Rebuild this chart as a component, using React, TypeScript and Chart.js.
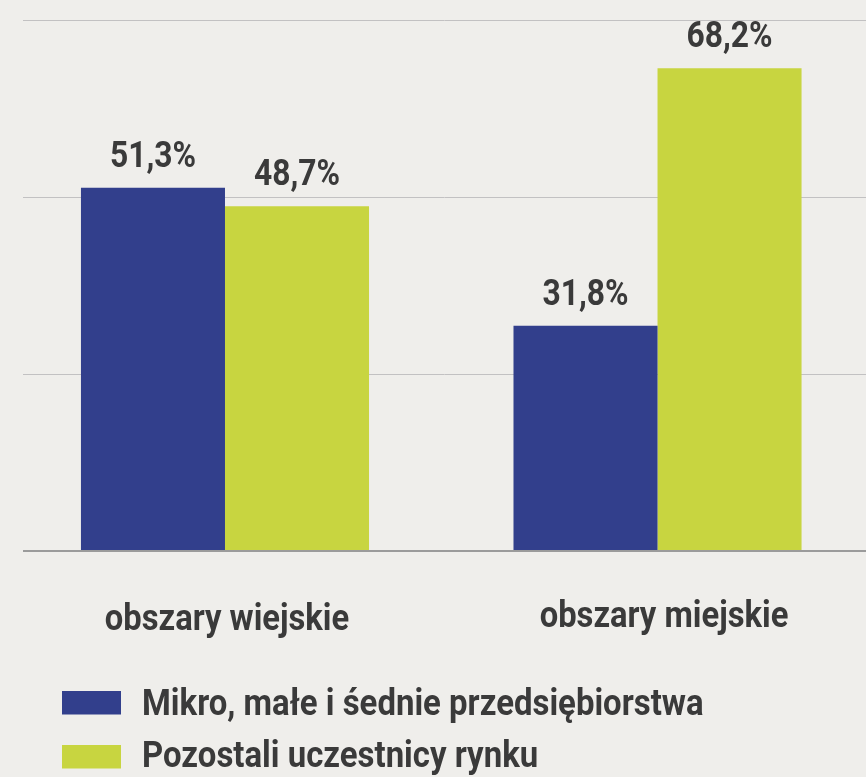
import React, { useEffect, useRef } from "react";
import { Chart, registerables } from "chart.js";

Chart.register(...registerables);

// ---- data ----
const categories = ["obszary wiejskie", "obszary miejskie"];
const seriesNames = ["Mikro, małe i śednie przedsiębiorstwa", "Pozostali uczestnicy rynku"];
const smeValues = [51.3, 31.8];
const otherValues = [48.7, 68.2];
const yTicks = [0, 25, 50, 75];

// ---- styles ----
const BLUE = "#323f8c";
const GREEN = "#c8d540";
const TEXT = "#3a3a3a";
const BG = "#efeeeb";
const FONT = "bold 37px Roboto";

function drawCondensed(ctx: CanvasRenderingContext2D, text: string, x: number, y: number, center: boolean, sx: number) {
  ctx.save();
  ctx.font = FONT;
  ctx.fillStyle = TEXT;
  ctx.textBaseline = "alphabetic";
  ctx.textAlign = "left";
  const w = ctx.measureText(text).width * sx;
  const left = center ? x - w / 2 : x;
  ctx.translate(left, y);
  ctx.scale(sx, 1);
  ctx.fillText(text, 0, 0);
  ctx.restore();
}

const fmt = (v: number) => v.toFixed(1).replace(".", ",") + "%";

const textPlugin = {
  id: "textPlugin",
  afterDatasetsDraw(chart: any) {
    const ctx: CanvasRenderingContext2D = chart.ctx;
    // value labels
    chart.data.datasets.forEach((ds: any, i: number) => {
      const meta = chart.getDatasetMeta(i);
      meta.data.forEach((bar: any, j: number) => {
        drawCondensed(ctx, fmt(ds.data[j].y), bar.x, bar.y - 21, true, 0.86);
      });
    });
    // category labels
    const xs = chart.scales.x;
    const bottom = chart.chartArea.bottom;
    const labelTweaks = [
      { dx: 2, dy: 79 },
      { dx: 6.5, dy: 76 },
    ];
    categories.forEach((c, j) => {
      const t = labelTweaks[j];
      drawCondensed(ctx, c, xs.getPixelForValue(j) + t.dx, bottom + t.dy, true, 0.885);
    });
    // legend
    const boxTops = [691, 745];
    const baselines = [715, 767];
    chart.data.datasets.forEach((ds: any, i: number) => {
      ctx.save();
      ctx.fillStyle = ds.backgroundColor;
      ctx.fillRect(62, boxTops[i], 59, 23.5);
      ctx.restore();
      drawCondensed(ctx, ds.label, 142, baselines[i], false, 0.89);
    });
  },
};

export default function App() {
  const ref = useRef<HTMLCanvasElement | null>(null);

  useEffect(() => {
    if (!ref.current) return;
    const chart = new Chart(ref.current, {
      type: "bar",
      data: {
        datasets: [
          {
            label: seriesNames[0],
            data: categories.map((_, i) => ({ x: i, y: smeValues[i] })),
            backgroundColor: BLUE,
            categoryPercentage: 0.666,
            barPercentage: 1,
          },
          {
            label: seriesNames[1],
            data: categories.map((_, i) => ({ x: i, y: otherValues[i] })),
            backgroundColor: GREEN,
            categoryPercentage: 0.666,
            barPercentage: 1,
          },
        ],
      } as any,
      options: {
        animation: false,
        responsive: false,
        layout: { padding: { left: 23, right: 0, top: 20, bottom: 226 } },
        plugins: {
          legend: { display: false },
          tooltip: { enabled: false },
        },
        scales: {
          x: {
            type: "linear",
            min: -0.467,
            max: 1.482,
            bounds: "data",
            offset: false,
            display: false,
            grid: { offset: false },
            afterBuildTicks: (s: any) => {
              s.ticks = categories.map((_, i) => ({ value: i }));
            },
          },
          y: {
            min: yTicks[0],
            max: yTicks[yTicks.length - 1],
            ticks: { display: false, stepSize: yTicks[1] - yTicks[0] },
            border: { display: false },
            grid: {
              drawTicks: false,
              color: (c: any) => (c.tick && c.tick.value === 0 ? "#9b9b9b" : "#c2c1c2"),
              lineWidth: (c: any) => (c.tick && c.tick.value === 0 ? 2 : 1),
            },
          },
        },
      } as any,
      plugins: [textPlugin],
    });
    return () => chart.destroy();
  }, []);

  return (
    <div style={{ position: "fixed", left: 0, top: 0, width: 866, height: 777, background: BG }}>
      <canvas ref={ref} width={866} height={777} style={{ display: "block" }} />
    </div>
  );
}
